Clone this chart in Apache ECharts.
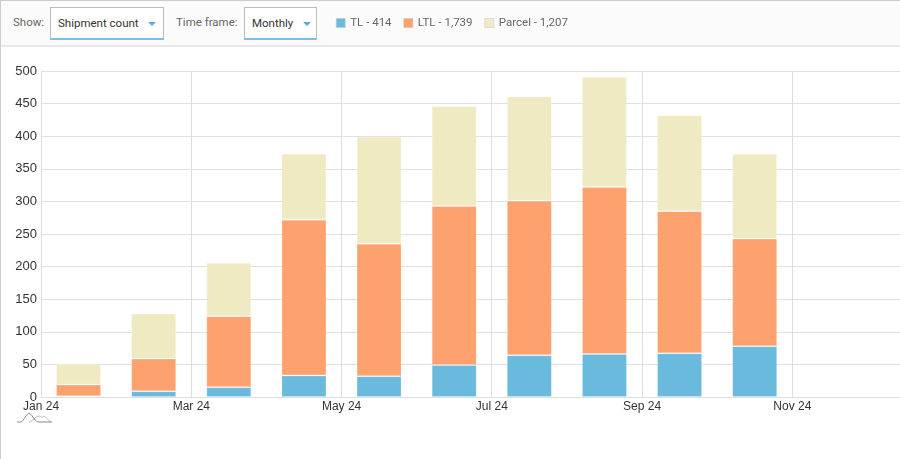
<!DOCTYPE html>
<html>
<head>
<meta charset="utf-8">
<title>Shipments</title>
<script src="https://cdn.jsdelivr.net/npm/echarts@6/dist/echarts.min.js"></script>
<style>
  html, body { margin: 0; padding: 0; background: #fff; overflow: hidden; }
  #page { position: relative; width: 900px; height: 459px; font-family: Roboto, sans-serif; overflow: hidden; }
  #toolbar { position: absolute; left: 0; top: 0; width: 900px; height: 47px; box-sizing: border-box;
    background: #fbfbfb; border-top: 1px solid #ccc; border-bottom: 2px solid #e8e8e8; }
  #edge { position: absolute; left: 0; top: 0; width: 1px; height: 459px; background: #ccc; z-index: 3; }
  #main { position: absolute; left: 0; top: 0; width: 960px; height: 459px; z-index: 2; }
  .lbl { position: absolute; top: 13px; font-size: 11.5px; line-height: 16px; color: #666; }
  .sel { position: absolute; top: 6px; height: 33px; box-sizing: border-box; background: #fff;
    border: 1px solid #bbb; border-bottom: 2px solid #7cc0de; font-size: 11.5px; line-height: 31px; color: #333; padding-left: 7px; }
  .sel i { position: absolute; top: 14px; border-left: 4px solid transparent; border-right: 4px solid transparent; border-top: 4px solid #5aa9d6; }
  #spark { position: absolute; left: 16px; top: 411px; z-index: 3; }
</style>
</head>
<body>
<div id="page">
  <div id="toolbar">
    <span class="lbl" style="left:13px">Show:</span>
    <div class="sel" style="left:50px;width:114px">Shipment count<i style="left:97px"></i></div>
    <span class="lbl" style="left:176px">Time frame:</span>
    <div class="sel" style="left:244px;width:73px">Monthly<i style="left:58px"></i></div>
  </div>
  <div id="edge"></div>
  <div id="main"></div>
  <svg id="spark" width="38" height="13" viewBox="0 0 38 13">
    <path d="M13 11 C17 10 20 5 23 5 C25 5 25 7 27 6 C29 4.5 31 8 35 11" fill="none" stroke="#b8b8b8" stroke-width="1"/>
    <path d="M1 11 L5 11 C8 10 10 2.5 13 2.5 C16 2.5 18 10 22 11 L36 11" fill="none" stroke="#8a8a8a" stroke-width="1"/>
  </svg>
</div>
<script>
var months = ['Jan 24', 'Feb 24', 'Mar 24', 'Apr 24', 'May 24', 'Jun 24', 'Jul 24', 'Aug 24', 'Sep 24', 'Oct 24', 'Nov 24', 'Dec 24'];
var tl = [1, 9, 15, 33, 32, 49, 64, 66, 67, 78];
var ltl = [18, 50, 109, 239, 203, 244, 237, 256, 218, 165];
var parcel = [32, 69, 82, 101, 164, 153, 160, 169, 147, 130];

function total(arr) {
  return arr.reduce(function (a, b) { return a + b; }, 0);
}
function barSeries(name, arr, color) {
  return {
    name: name,
    type: 'bar',
    stack: 'shipments',
    barWidth: 45,
    data: arr,
    itemStyle: { color: color, borderColor: 'rgba(255,255,255,0.2)', borderWidth: 1 }
  };
}

var totals = { 'TL': total(tl), 'LTL': total(ltl), 'Parcel': total(parcel) };

var myChart = echarts.init(document.getElementById('main'));
myChart.setOption({
  animation: false,
  backgroundColor: 'transparent',
  // the Dec band runs past the right edge of the page, #page clips it
  grid: { left: 41, top: 71, width: 901.5, height: 326, containLabel: false },
  legend: {
    left: 336,
    top: 17,
    padding: 0,
    itemWidth: 9,
    itemHeight: 9,
    itemGap: 12,
    icon: 'rect',
    selectedMode: false,
    itemStyle: { borderColor: '#c4c4c4', borderWidth: 0.5 },
    textStyle: { fontFamily: 'Roboto', fontSize: 11.5, color: '#666' },
    formatter: function (name) {
      return name + ' - ' + totals[name].toLocaleString('en-US');
    },
    data: ['TL', 'LTL', 'Parcel']
  },
  xAxis: {
    type: 'category',
    data: months,
    boundaryGap: true,
    axisLine: { show: true, lineStyle: { color: '#ddd' } },
    axisTick: { show: false, interval: 1 },
    splitLine: { show: true, interval: 1, lineStyle: { color: '#ddd' } },
    axisLabel: {
      interval: 1,
      color: '#333',
      fontFamily: 'Liberation Sans',
      fontSize: 12,
      margin: 4,
      // labels sit on the month start, not the band centre
      padding: [0, 75, 0, 0],
      hideOverlap: false
    }
  },
  yAxis: {
    type: 'value',
    min: 0,
    max: 500,
    interval: 50,
    axisLine: { show: false },
    axisTick: { show: false },
    splitLine: { show: true, lineStyle: { color: '#e0e0e0' } },
    axisLabel: { color: '#333', fontFamily: 'Liberation Sans', fontSize: 13, margin: 4, padding: [2, 0, 0, 0] }
  },
  series: [
    barSeries('TL', tl, '#6abadd'),
    barSeries('LTL', ltl, '#fda16f'),
    barSeries('Parcel', parcel, '#f0eac2')
  ]
});
</script>
</body>
</html>
